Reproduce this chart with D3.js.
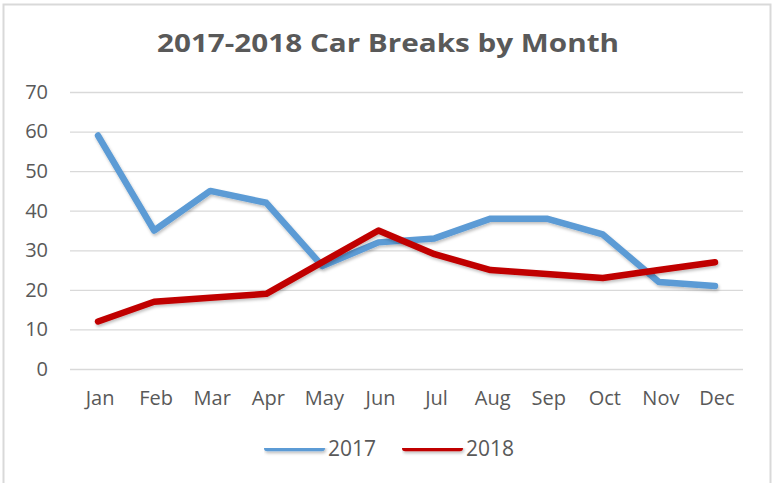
<!DOCTYPE html>
<html><head><meta charset="utf-8">
<script src="https://cdn.jsdelivr.net/npm/d3@7/dist/d3.min.js"></script>
<style>
html,body{margin:0;padding:0;background:#fff;}
svg{display:block;font-family:"Open Sans",sans-serif;}
</style></head>
<body><svg id="c" width="772" height="483"></svg>
<script>
const months = ["Jan","Feb","Mar","Apr","May","Jun","Jul","Aug","Sep","Oct","Nov","Dec"];
const values2017 = [59,35,45,42,26,32,33,38,38,34,22,21];
const values2018 = [12,17,18,19,27,35,29,25,24,23,25,27];
const seriesNames = ["2017","2018"];
const seriesColors = ["#5B9BD5","#C00000"];
const yTicks = [0,10,20,30,40,50,60,70];
const title = "2017-2018 Car Breaks by Month";

const svg = d3.select("#c");
const defs = svg.append("defs");
const f = defs.append("filter").attr("id","sh").attr("filterUnits","userSpaceOnUse")
  .attr("x",0).attr("y",0).attr("width",772).attr("height",483);
f.append("feDropShadow").attr("dx",1).attr("dy",2).attr("stdDeviation",1.5).attr("flood-color","#000").attr("flood-opacity",0.25);

// border
svg.append("rect").attr("x",3.5).attr("y",4.5).attr("width",767).attr("height",485)
  .attr("fill","none").attr("stroke","#d9d9d9").attr("stroke-width",2);

const x = d3.scaleBand().domain(months).range([70,743]);
const y = d3.scaleLinear().domain([0,70]).range([369,92]);

svg.append("text").attr("x",388).attr("y",52).attr("text-anchor","middle")
  .attr("font-size",25).attr("font-weight","bold").attr("fill","#595959")
  .attr("textLength",462).attr("lengthAdjust","spacingAndGlyphs").text(title);

// grid + y axis
const ya = svg.append("g").attr("transform","translate(70,0)")
  .call(d3.axisLeft(y).tickValues(yTicks).tickSize(-673).tickPadding(22));
ya.select(".domain").remove();
ya.selectAll(".tick line").attr("stroke","#d9d9d9").attr("stroke-width",1.3);
ya.selectAll(".tick text").attr("fill","#595959").attr("font-size",20).attr("font-family","'Open Sans',sans-serif");

const xa = svg.append("g").attr("transform","translate(2,369)")
  .call(d3.axisBottom(x).tickSize(0).tickPadding(22));
xa.select(".domain").remove();
xa.selectAll(".tick text").attr("fill","#595959").attr("font-size",20).attr("font-family","'Open Sans',sans-serif");

const line = d3.line().x((d,i)=>x(months[i])+x.bandwidth()/2).y(d=>y(d));
[values2017, values2018].forEach((vals,k)=>{
  svg.append("path").datum(vals).attr("d",line).attr("fill","none")
    .attr("stroke",seriesColors[k]).attr("stroke-width",6.5)
    .attr("stroke-linejoin","round").attr("stroke-linecap","round").attr("filter","url(#sh)");
});

// legend
const legX = [264,402];
seriesNames.forEach((n,k)=>{
  const g = svg.append("g").attr("transform",`translate(${legX[k]},448)`);
  g.append("rect").attr("x",0).attr("y",-3.25).attr("width",61).attr("height",6.5).attr("rx",3.25)
    .attr("fill",seriesColors[k]).attr("filter","url(#sh)");
  g.append("text").attr("x",64).attr("y",8).attr("font-size",21).attr("fill","#595959").text(n);
});
</script></body></html>
